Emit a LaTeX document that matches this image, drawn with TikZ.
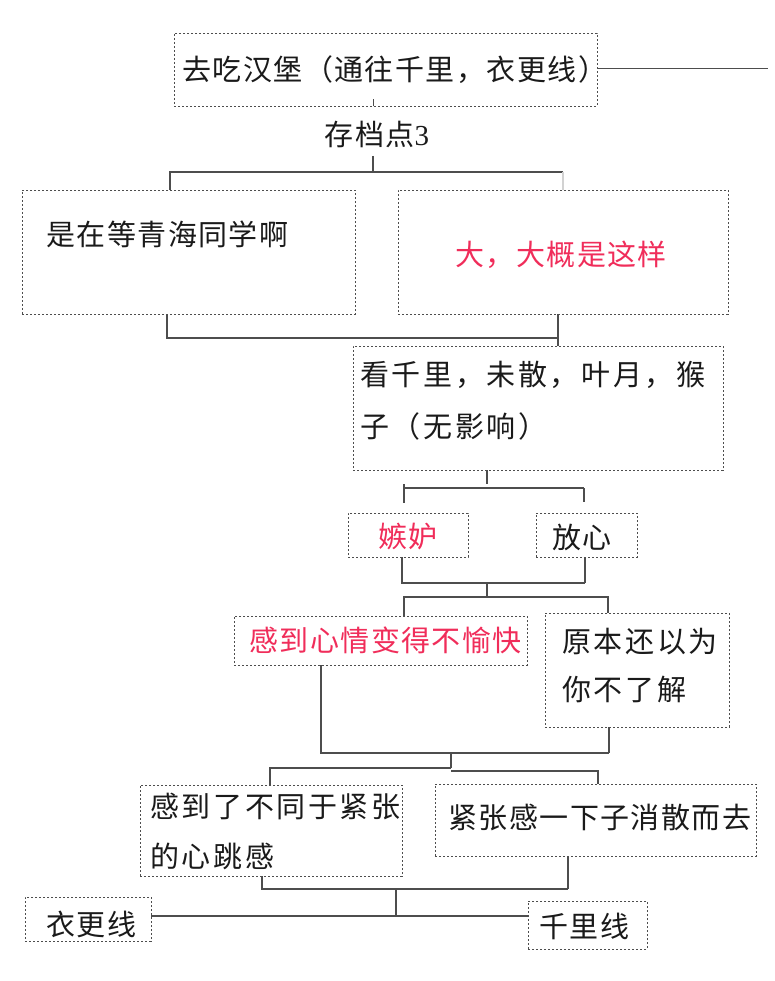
\documentclass[tikz,border=0pt]{standalone}
\usepackage{fontspec}
\setmainfont{Liberation Serif}
\newfontfamily\cjka[LetterSpace=5]{Noto Sans CJK SC}
\newfontfamily\cjkb[LetterSpace=9]{Noto Sans CJK SC}
\definecolor{linegray}{HTML}{4D4D4D}
\definecolor{hired}{HTML}{F02D5A}
\definecolor{txtblack}{HTML}{1A1A1A}
\begin{document}
\begin{tikzpicture}[x=1pt,y=-1pt,
  box/.style={draw=linegray, dash pattern=on 2.4pt off 1.6pt, line width=0.9pt, inner sep=0pt},
  conn/.style={draw=linegray, line width=1.3pt},
  txta/.style={inner sep=0pt, text=txtblack, font=\fontsize{29}{32}\selectfont\cjka},
  txtb/.style={inner sep=0pt, text=txtblack, align=left, font=\fontsize{29}{#1}\selectfont\cjkb},
  redtxt/.style={text=hired}
]
\useasboundingbox (0,0) rectangle (775,981);

% boxes
\node[box, minimum width=423pt, minimum height=73pt]  (B0)  at (385.5,69.5) {};
\node[box, minimum width=333pt, minimum height=124pt] (B1)  at (188.5,252) {};
\node[box, minimum width=330pt, minimum height=124pt] (B2)  at (563,252) {};
\node[box, minimum width=370pt, minimum height=124pt] (B3)  at (538,408) {};
\node[box, minimum width=120pt, minimum height=44pt]  (B4)  at (408,535) {};
\node[box, minimum width=101pt, minimum height=44pt]  (B5)  at (586.5,535) {};
\node[box, minimum width=293pt, minimum height=49pt]  (B6)  at (380.5,640.5) {};
\node[box, minimum width=184pt, minimum height=114pt] (B7)  at (637,670) {};
\node[box, minimum width=262pt, minimum height=91pt]  (B8)  at (271,830.5) {};
\node[box, minimum width=321pt, minimum height=72pt]  (B9)  at (595.5,820) {};
\node[box, minimum width=126pt, minimum height=44pt]  (B10) at (88,919) {};
\node[box, minimum width=119pt, minimum height=48pt]  (B11) at (587.5,925) {};

% texts
\node[txta, anchor=west] (T0) at (182,70) {去吃汉堡（通往千里，衣更线）};
\node[txta] (S) at (377,134) {存档点{\rmfamily 3}};
\node[txta, anchor=west] (T1) at (46,234) {是在等青海同学啊};
\node[txta, redtxt, anchor=west] (T2) at (455,255) {大，大概是这样};
\node[txtb=52, anchor=west] (T3) at (360,401) {看千里，未散，叶月，猴\\子（无影响）};
\node[txta, redtxt, anchor=west] (T4) at (378,537) {嫉妒};
\node[txta, anchor=west] (T5) at (552,537) {放心};
\node[txta, redtxt, anchor=west] (T6) at (249,640) {感到心情变得不愉快};
\node[txtb=48, anchor=west] (T7) at (562,666) {原本还以为\\你不了解};
\node[txtb=50, anchor=west] (T8) at (150,831) {感到了不同于紧张\\的心跳感};
\node[txta, anchor=west] (T9) at (448,818) {紧张感一下子消散而去};
\node[txta, anchor=west] (T10) at (46,924) {衣更线};
\node[txta, anchor=west] (T11) at (539,926) {千里线};

% junction coordinates
\coordinate (R)  at (768,68.5);
\coordinate (k0) at (373,156);
\coordinate (k1) at (373,172);
\coordinate (a1) at (170,172);
\coordinate (a2) at (563,172);
\coordinate (b1) at (167,338);
\coordinate (b2) at (558,338);
\coordinate (c0) at (487,484);
\coordinate (c1) at (404,488);
\coordinate (c2) at (584,488);
\coordinate (c3) at (404,503);
\coordinate (c4) at (584,502);
\coordinate (c5) at (404,484);
\coordinate (d1) at (402,583);
\coordinate (d2) at (585,583);
\coordinate (d3) at (487,583);
\coordinate (d4) at (487,597);
\coordinate (d5) at (404,597);
\coordinate (d6) at (608,597);
\coordinate (e1) at (321,753);
\coordinate (e2) at (609,753);
\coordinate (e3) at (451,753);
\coordinate (f1) at (270,768);
\coordinate (f2) at (451,768);
\coordinate (f3) at (451,771);
\coordinate (f4) at (598,771);
\coordinate (g1) at (262,889);
\coordinate (g2) at (568,889);
\coordinate (g3) at (396,889);
\coordinate (h)  at (396,916);

% connectors
\draw[conn] (B0.east |- R) -- (R);
\draw[conn, line width=0.8pt] ([xshift=-12.5pt]B0.south) -- ++(0,-7);
\draw[conn] (k0) -- (k1);
\draw[conn] (B1.north -| a1) |- (a2);
\draw[conn, draw=linegray!25] (a2) -- (B2.north -| a2);

\draw[conn] (B1.south -| b1) |- (b2);
\draw[conn] (B2.south -| b2) -- (B3.north -| b2);

\draw[conn] (B3.south -| c0) -- (c0);
\draw[conn] (c1) -- (c2);
\draw[conn] (c5) -- (c3);
\draw[conn] (c2) -- (c4);

\draw[conn] (B4.south -| d1) |- (d2);
\draw[conn] (B5.south -| d2) -- (d2);
\draw[conn] (d3) -- (d4);
\draw[conn] (B6.north -| d5) |- (d6) -- (B7.north -| d6);

\draw[conn] (B6.south -| e1) |- (e2);
\draw[conn] (B7.south -| e2) -- (e2);
\draw[conn] (e3) -- (f2);
\draw[conn] (B8.north -| f1) |- (f2);
\draw[conn] (f3) -- (f4) -- (B9.north -| f4);

\draw[conn] (B8.south -| g1) |- (g2);
\draw[conn] (B9.south -| g2) -- (g2);
\draw[conn] (g3) -- (h);
\draw[conn] (B10.east |- h) -- (B11.west |- h);
\end{tikzpicture}
\end{document}
